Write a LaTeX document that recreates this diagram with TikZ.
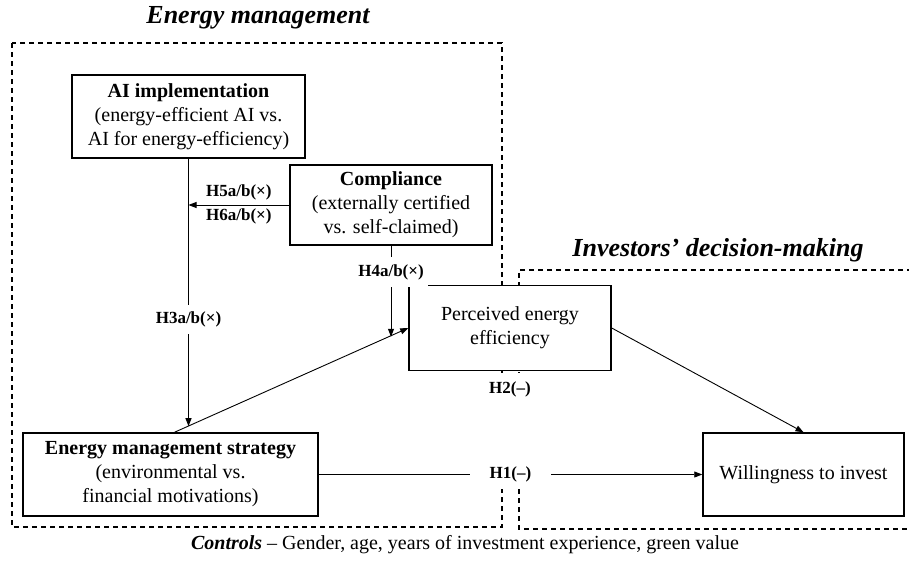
\documentclass[tikz,border=0pt]{standalone}
\usepackage{fontspec}
\setmainfont{Liberation Serif}
\usetikzlibrary{arrows.meta,calc}

\begin{document}
\begin{tikzpicture}[x=1pt,y=-1pt,>={Triangle[length=8pt,width=6pt]},
  box/.style={draw,line width=1.5pt,fill=white,align=center,inner sep=2pt,
    font=\fontsize{20}{24}\selectfont},
  hyp/.style={inner sep=2pt,font=\fontsize{17}{20}\selectfont\bfseries},
  gap/.style={hyp,fill=white,inner xsep=4pt,inner ysep=7pt},
  link/.style={draw,line width=0.9pt,->},
  zone/.style={draw,line width=1.2pt,dash pattern=on 5pt off 4pt},
  title/.style={font=\fontsize{26}{30}\selectfont\bfseries\itshape}]
  \useasboundingbox (0,0) rectangle (909,560);

  % the two groups
  \draw[zone] (12,43) rectangle (502,527);
  \draw[zone] (912,270) -- (519,270) -- (519,529) -- (912,529);
  \fill[white] (490,373) rectangle (530,489); % blank strip between the groups
  \node[title] (emtitle) at (258,18) {Energy management};
  \node[title] (idtitle) at (718,250) {Investors’ decision-making};

  % constructs
  \node[box,minimum width=233pt,minimum height=83pt] (ai) at (188.5,116.5)
    {\textbf{AI implementation}\\(energy-efficient AI vs.\\AI for energy-efficiency)};
  \node[box,minimum width=202pt,minimum height=80pt] (comp) at (391,205)
    {\textbf{Compliance}\\(externally certified\\vs. self-claimed)};
  \node[box,minimum width=202pt,minimum height=85pt] (pee) at (510,328)
    {Perceived energy\\efficiency};
  \node[box,minimum width=295pt,minimum height=83pt] (ems) at (170.5,474.5)
    {\textbf{Energy management strategy}\\(environmental vs.\\financial motivations)};
  \node[box,minimum width=201pt,minimum height=83pt] (wti) at (803.5,474.5)
    {Willingness to invest};

  % points where the moderators meet the first path
  \coordinate (emsout) at ($(ems.north)+(4,0)$);
  \coordinate (h3end) at ($(emsout)!0.058!(pee.west)$);
  \coordinate (h4end) at ($(emsout)!0.916!(pee.west)$);

  % paths
  \draw[link] (emsout) -- (pee.west);
  \draw[link] (pee.east) -- (wti.north);
  \draw[link] (ems) -- node[gap,inner xsep=20pt] (h1) {H1(–)} (wti);
  \draw[link] (ai.south) -- node[gap,pos=0.6] (h3) {H3a/b(×)} (ai.south |- h3end);
  \draw[link] (comp.west) -- node[hyp,above=2pt] (h5) {H5a/b(×)}
    node[hyp,below=1pt] (h6) {H6a/b(×)} (ai.south |- comp.west);
  \draw[link] (comp.south) -- node[gap,pos=0.29] (h4) {H4a/b(×)} (comp.south |- h4end);
  \node[gap] (h2) at ($(pee.south)+(0,18)$) {H2(–)};

  \node[font=\fontsize{20}{24}\selectfont] (ctrl) at (465,545)
    {\textbf{\textit{Controls}} – Gender, age, years of investment experience, green value};
\end{tikzpicture}
\end{document}
